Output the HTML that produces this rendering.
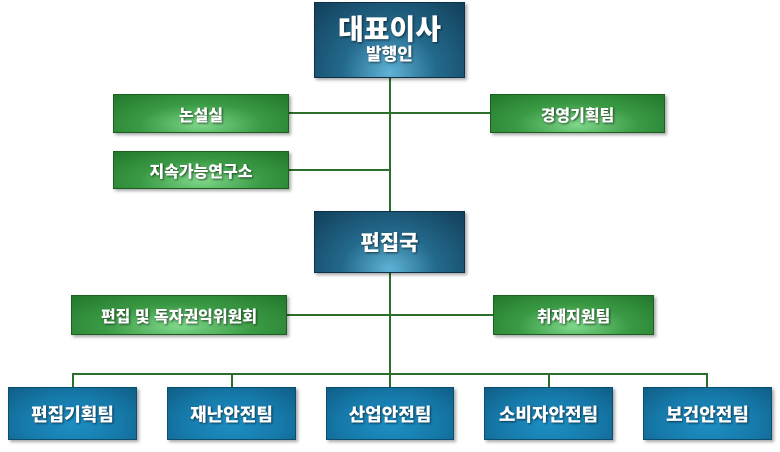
<!DOCTYPE html>
<html><head><meta charset="utf-8"><style>
body{margin:0;width:780px;height:452px;background:#fff;position:relative;overflow:hidden;font-family:"Liberation Sans","Noto Sans CJK KR",sans-serif}
.b{position:absolute;display:flex;align-items:center;justify-content:center;color:#fff;font-weight:900;text-shadow:1px 1px 2px rgba(0,0,0,.6);box-shadow:2px 2px 3px rgba(0,0,0,.35);box-sizing:border-box}
.d{background:radial-gradient(ellipse at 50% 95%,#5fb3d6 0%,#23698c 45%,#123f5a 100%);border:1px solid #0d3247}
.g{background:radial-gradient(ellipse at 50% 80%,#7ed88a 0%,#3a9a44 50%,#22772b 100%);border:1px solid #1d5e22;font-size:16px}
.c{background:radial-gradient(ellipse at 50% 70%,#1d8fc4 0%,#167aaa 55%,#0f5e86 100%);border:1px solid #0c4e70;font-size:18px}
.l{position:absolute;background:#2b6f2b}
</style></head><body>
<div class="l" style="left:389px;top:78px;width:2px;height:297px"></div>
<div class="l" style="left:289px;top:112px;width:201px;height:2px"></div>
<div class="l" style="left:289px;top:169px;width:101px;height:2px"></div>
<div class="l" style="left:287px;top:314px;width:206px;height:2px"></div>
<div class="l" style="left:72px;top:373px;width:636px;height:2px"></div>
<div class="l" style="left:72px;top:373px;width:2px;height:14px"></div>
<div class="l" style="left:231px;top:373px;width:2px;height:14px"></div>
<div class="l" style="left:389px;top:373px;width:2px;height:14px"></div>
<div class="l" style="left:548px;top:373px;width:2px;height:14px"></div>
<div class="l" style="left:706px;top:373px;width:2px;height:14px"></div>

<div class="b d" style="left:314px;top:2px;width:151px;height:76px;flex-direction:column;line-height:1.1"><div style="font-size:28px">대표이사</div><div style="font-size:17px">발행인</div></div>
<div class="b g" style="left:113px;top:94px;width:176px;height:39px">논설실</div>
<div class="b g" style="left:490px;top:94px;width:175px;height:39px">경영기획팀</div>
<div class="b g" style="left:113px;top:151px;width:176px;height:38px">지속가능연구소</div>
<div class="b d" style="left:314px;top:211px;width:151px;height:62px;font-size:21px">편집국</div>
<div class="b g" style="left:71px;top:295px;width:216px;height:40px">편집 및 독자권익위원회</div>
<div class="b g" style="left:493px;top:295px;width:161px;height:40px">취재지원팀</div>
<div class="b c" style="left:8px;top:387px;width:129px;height:53px">편집기획팀</div>
<div class="b c" style="left:167px;top:387px;width:129px;height:53px">재난안전팀</div>
<div class="b c" style="left:326px;top:387px;width:128px;height:53px">산업안전팀</div>
<div class="b c" style="left:484px;top:387px;width:129px;height:53px">소비자안전팀</div>
<div class="b c" style="left:643px;top:387px;width:129px;height:53px">보건안전팀</div>
</body></html>
